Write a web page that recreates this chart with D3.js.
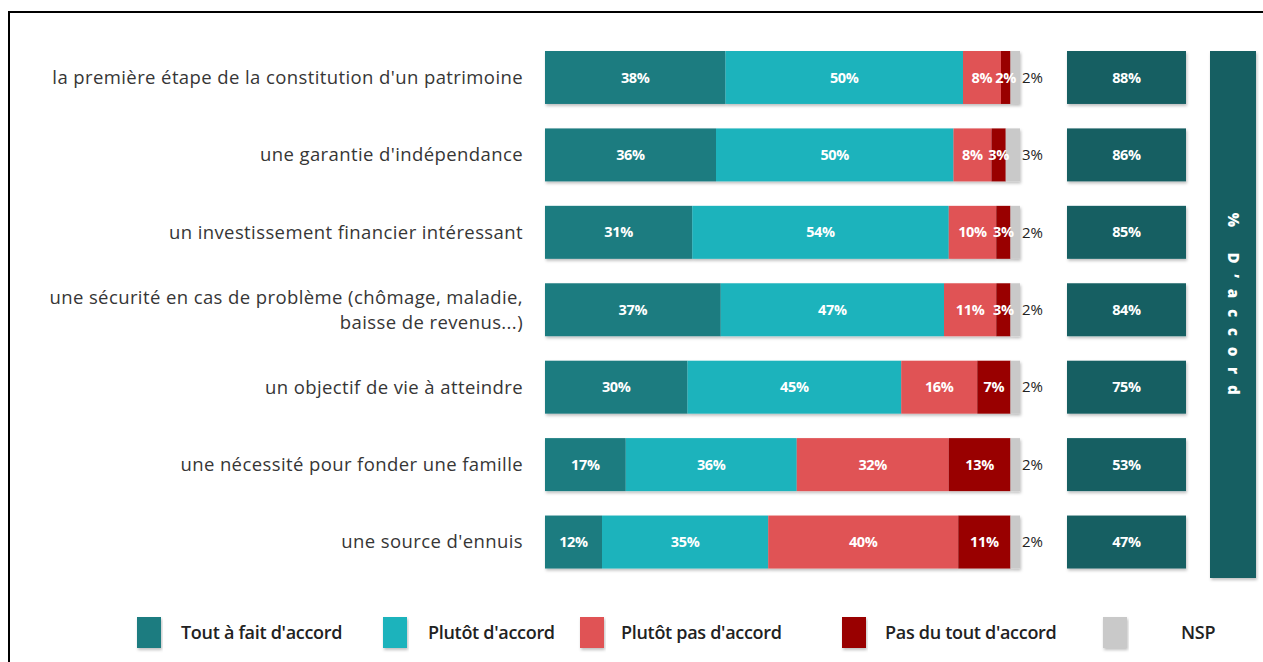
<!DOCTYPE html>
<html><head><meta charset="utf-8">
<script src="https://cdn.jsdelivr.net/npm/d3@7"></script>
<style>
html,body{margin:0;padding:0;background:#fff;}
svg{display:block;}
</style></head>
<body>
<svg id="chart" width="1263" height="662"></svg>
<script>
const categories = [
  ["la première étape de la constitution d'un patrimoine"],
  ["une garantie d'indépendance"],
  ["un investissement financier intéressant"],
  ["une sécurité en cas de problème (chômage, maladie,", "baisse de revenus...)"],
  ["un objectif de vie à atteindre"],
  ["une nécessité pour fonder une famille"],
  ["une source d'ennuis"]
];
const seriesNames = ["Tout à fait d'accord", "Plutôt d'accord", "Plutôt pas d'accord", "Pas du tout d'accord", "NSP"];
const seriesColors = ["#1b7b80", "#1bb3bc", "#e05254", "#990306", "#c9c9c9"];
const toutAFait = [38, 36, 31, 37, 30, 17, 12];
const plutot = [50, 50, 54, 47, 45, 36, 35];
const plutotPas = [8, 8, 10, 11, 16, 32, 40];
const pasDuTout = [2, 3, 3, 3, 7, 13, 11];
const nsp = [2, 3, 2, 2, 2, 2, 2];
const totalAccord = [88, 86, 85, 84, 75, 53, 47];
const sideTitle = "% D\u2019accord";

const series = [toutAFait, plutot, plutotPas, pasDuTout, nsp];
const svg = d3.select("#chart");

// frame
svg.append("path").attr("d", "M9,700 V12 H1300").attr("fill", "none").attr("stroke", "#000").attr("stroke-width", 2);

const defs = svg.append("defs");
const f = defs.append("filter").attr("id", "sh").attr("x", "-5%").attr("y", "-20%").attr("width", "110%").attr("height", "150%");
f.append("feDropShadow").attr("dx", 1).attr("dy", 2).attr("stdDeviation", 1.5).attr("flood-color", "#000").attr("flood-opacity", 0.25);

const x = d3.scaleLinear().domain([0, 100]).range([545, 1020]);
const y = d3.scaleBand().domain(d3.range(categories.length)).range([51, 568.5]).paddingInner(0.316).paddingOuter(0);
const color = d3.scaleOrdinal().domain(d3.range(5)).range(seriesColors);

const font = "'Open Sans', 'DejaVu Sans', sans-serif";

// stacked data
const rows = categories.map((c, i) => {
  let acc = 0;
  return series.map((s, k) => { const v = s[i]; const r = {i, k, x0: acc, x1: acc + v, v}; acc += v; return r; });
});

const rowG = svg.selectAll("g.row").data(rows).join("g").attr("class", "row");
rowG.append("g").attr("filter", "url(#sh)").selectAll("rect").data(d => d).join("rect")
  .attr("x", d => x(d.x0)).attr("width", d => x(d.x1) - x(d.x0))
  .attr("y", d => y(d.i)).attr("height", y.bandwidth())
  .attr("fill", d => color(d.k));

rowG.selectAll("text.v").data(d => d).join("text").attr("class", "v")
  .attr("x", d => d.k === 4 ? x(d.x1) + 2 : (x(d.x0) + x(d.x1)) / 2)
  .attr("y", d => y(d.i) + y.bandwidth() / 2)
  .attr("dy", "0.35em")
  .attr("text-anchor", d => d.k === 4 ? "start" : "middle")
  .attr("font-family", font)
  .attr("font-size", d => d.k === 4 ? 15 : 14.5)
  .attr("font-weight", d => d.k === 4 ? 400 : 700)
  .attr("letter-spacing", d => d.k === 4 ? 0 : -0.3)
  .attr("fill", d => d.k === 4 ? "#222" : "#fff")
  .text(d => d.v + "%");

// category labels
const lab = svg.selectAll("text.cat").data(categories).join("text").attr("class", "cat")
  .attr("x", 523).attr("text-anchor", "end")
  .attr("font-family", font).attr("font-size", 18.5).attr("letter-spacing", 0.4).attr("fill", "#363636")
  .attr("y", (d, i) => y(i) + y.bandwidth() / 2 - (d.length - 1) * 12.5);
lab.selectAll("tspan").data(d => d).join("tspan")
  .attr("x", 523).attr("dy", (d, j) => j === 0 ? "0.35em" : "1.35em").text(d => d);

// right total boxes
const xb = d3.scaleLinear().domain([0, 1]).range([1067, 1186]);
svg.append("g").attr("filter", "url(#sh)").selectAll("rect").data(totalAccord).join("rect")
  .attr("x", xb(0)).attr("width", xb(1) - xb(0))
  .attr("y", (d, i) => y(i)).attr("height", y.bandwidth()).attr("fill", "#145e62");
svg.selectAll("text.tot").data(totalAccord).join("text").attr("class", "tot")
  .attr("x", (xb(0) + xb(1)) / 2).attr("y", (d, i) => y(i) + y.bandwidth() / 2).attr("dy", "0.35em")
  .attr("text-anchor", "middle").attr("font-family", font).attr("font-size", 14.5).attr("font-weight", 700)
  .attr("letter-spacing", -0.3).attr("fill", "#fff").text(d => d + "%");

// side vertical box
svg.append("rect").attr("x", 1210).attr("width", 46).attr("y", 51).attr("height", 527).attr("fill", "#145e62").attr("filter", "url(#sh)");
svg.append("text").attr("transform", "translate(1233,309) rotate(90)")
  .attr("text-anchor", "middle").attr("dy", "0.35em")
  .attr("font-family", font).attr("font-size", 15).attr("font-weight", 800).attr("letter-spacing", 10.8)
  .attr("fill", "#fff").text(sideTitle);

// legend
const legX = [137, 383, 580, 842, 1103];
const legTX = [181, 428, 621, 885, 1181];
const leg = svg.selectAll("g.leg").data(seriesNames).join("g").attr("class", "leg");
leg.append("rect").attr("x", (d, i) => legX[i]).attr("y", 617).attr("width", 24).attr("height", 31)
  .attr("fill", (d, i) => color(i)).attr("filter", "url(#sh)");
leg.append("text").attr("x", (d, i) => legTX[i]).attr("y", 633).attr("dy", "0.35em")
  .attr("font-family", font).attr("font-size", 18).attr("font-weight", 600).attr("letter-spacing", -0.3).attr("fill", "#222")
  .text(d => d);
</script>
</body></html>
